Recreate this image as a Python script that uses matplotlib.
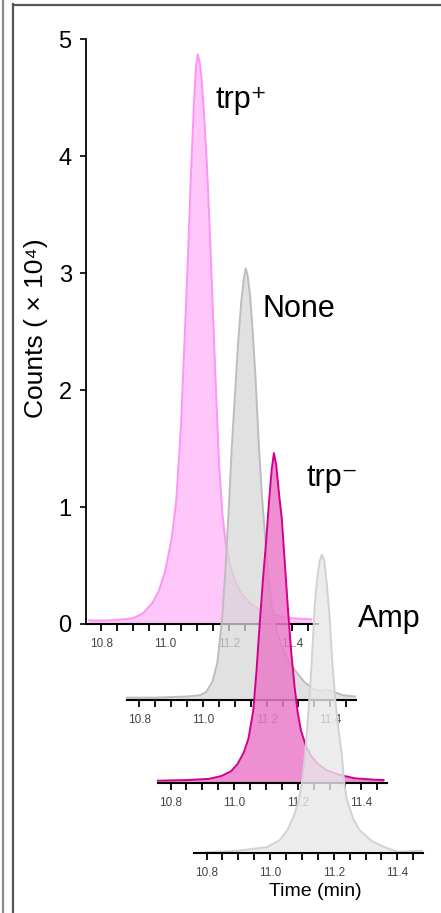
import numpy as np
import matplotlib
matplotlib.use("Agg")
import matplotlib.pyplot as plt
from matplotlib.lines import Line2D
from matplotlib.ticker import FixedLocator, FormatStrFormatter

# retention time (min) / counts (x10^4)
t_trp_plus = [10.76, 10.82, 10.87, 10.90, 10.93, 10.96, 10.98, 11.00, 11.02, 11.035, 11.05, 11.06,
              11.07, 11.08, 11.09, 11.097, 11.103, 11.109, 11.116, 11.124, 11.132, 11.14, 11.15,
              11.16, 11.17, 11.18, 11.19, 11.205, 11.22, 11.24, 11.27, 11.30, 11.34, 11.39, 11.46]
y_trp_plus = [0.03, 0.03, 0.04, 0.05, 0.09, 0.18, 0.28, 0.45, 0.72, 1.05, 1.7, 2.35,
              3.0, 3.75, 4.4, 4.76, 4.87, 4.8, 4.62, 4.3, 3.9, 3.4, 2.7,
              2.0, 1.35, 0.95, 0.7, 0.5, 0.37, 0.26, 0.17, 0.12, 0.08, 0.05, 0.04]

t_none = [10.76, 10.85, 10.95, 10.99, 11.01, 11.03, 11.045, 11.06, 11.07, 11.08, 11.09, 11.10,
          11.11, 11.12, 11.128, 11.134, 11.14, 11.148, 11.156, 11.165, 11.175, 11.185, 11.195,
          11.205, 11.215, 11.23, 11.25, 11.27, 11.29, 11.32, 11.35, 11.37, 11.39, 11.41, 11.44, 11.48]
y_none = [0.02, 0.02, 0.03, 0.04, 0.07, 0.16, 0.32, 0.7, 1.1, 1.6, 2.15, 2.6,
          3.05, 3.4, 3.6, 3.69, 3.63, 3.45, 3.15, 2.75, 2.2, 1.75, 1.4,
          1.05, 0.82, 0.6, 0.44, 0.33, 0.25, 0.15, 0.09, 0.08, 0.09, 0.07, 0.04, 0.03]

t_trp_minus = [10.76, 10.85, 10.92, 10.96, 10.99, 11.01, 11.03, 11.045, 11.06, 11.07, 11.08,
               11.09, 11.10, 11.11, 11.118, 11.125, 11.132, 11.14, 11.15, 11.16, 11.17, 11.18,
               11.19, 11.20, 11.21, 11.225, 11.24, 11.26, 11.29, 11.33, 11.38, 11.43, 11.47]
y_trp_minus = [0.02, 0.025, 0.035, 0.06, 0.1, 0.16, 0.26, 0.38, 0.62, 0.95, 1.35,
               1.72, 2.05, 2.42, 2.68, 2.82, 2.72, 2.5, 2.25, 1.85, 1.45, 1.1,
               0.82, 0.6, 0.45, 0.32, 0.24, 0.17, 0.11, 0.07, 0.04, 0.03, 0.025]

t_amp = [10.76, 10.90, 10.99, 11.03, 11.055, 11.075, 11.09, 11.10, 11.11, 11.12, 11.13, 11.14,
         11.148, 11.156, 11.163, 11.17, 11.178, 11.186, 11.195, 11.205, 11.215, 11.225, 11.232,
         11.24, 11.26, 11.28, 11.32, 11.36, 11.40, 11.44, 11.48]
y_amp = [0.0, 0.02, 0.05, 0.11, 0.2, 0.32, 0.45, 0.6, 0.85, 1.2, 1.6, 2.12,
         2.35, 2.5, 2.55, 2.5, 2.3, 2.05, 1.65, 1.3, 1.05, 0.85, 0.62,
         0.47, 0.3, 0.2, 0.1, 0.05, 0.01, 0.015, 0.02]

labels = ["trp\u207a", "None", "trp\u207b", "Amp"]
label_pos = [(11.16, 4.41), (11.188, 3.27), (11.228, 2.54), (11.276, 1.93)]

major_ticks = [10.8, 11.0, 11.2, 11.4]
minor_ticks = np.arange(10.8, 11.46, 0.05)
y_ticks = [0, 1, 2, 3, 4, 5]

W, H = 441, 913
plt.rcParams["font.family"] = ["Liberation Sans", "DejaVu Sans"]

fig = plt.figure(figsize=(W / 100, H / 100), dpi=100)
fig.patch.set_facecolor("white")

# frame lines of the original panel
fig.add_artist(Line2D([2.5 / W, 2.5 / W], [0, 1], color="#8a8a8a", lw=1.6))
fig.add_artist(Line2D([13 / W, 13 / W], [0, 1 - 4 / H], color="#555555", lw=1.6))
fig.add_artist(Line2D([13 / W, 1], [1 - 5 / H, 1 - 5 / H], color="#555555", lw=1.6))

# left pixel, bottom pixel of each staggered panel
offsets = [(85.6, 624), (123.6, 700), (154.7, 783), (190.7, 853)]
ax_w = 232.1
ax_h = 585

traces = [(t_trp_plus, y_trp_plus), (t_none, y_none), (t_trp_minus, y_trp_minus), (t_amp, y_amp)]
fills = [("#ffc6fa", 1.0), ("#d8d8d8", 0.75), ("#ea7cc8", 0.85), ("#e8e8e8", 0.8)]
lines = ["#ff94f2", "#bdbdbd", "#d4008c", "#d2d2d2"]

axes = []
for i, (left, bottom) in enumerate(offsets):
    ax = fig.add_axes([left / W, (H - bottom) / H, ax_w / W, ax_h / H])
    ax.patch.set_visible(False)
    t, y = traces[i]
    ax.fill_between(t, y, 0, color=fills[i][0], alpha=fills[i][1], lw=0)
    ax.plot(t, y, color=lines[i], lw=1.4, solid_joinstyle="round")
    ax.set_xlim(10.75, 11.48)
    ax.set_ylim(0, 5.0)
    for s in ["top", "right"]:
        ax.spines[s].set_visible(False)
    ax.spines["bottom"].set_linewidth(1.5)
    ax.xaxis.set_major_locator(FixedLocator(major_ticks))
    ax.xaxis.set_minor_locator(FixedLocator(minor_ticks))
    ax.xaxis.set_major_formatter(FormatStrFormatter("%.1f"))
    ax.tick_params(axis="x", which="both", direction="out", length=5, width=1.3,
                   color="black", pad=5, labelsize=8.5, labelcolor="#444444")
    if i == 0:
        ax.spines["left"].set_linewidth(1.3)
        ax.set_yticks(y_ticks)
        ax.tick_params(axis="y", length=4, width=1.2, pad=6, labelsize=17)
        ax.set_ylabel("Counts ( \u00d7 10\u2074)", fontsize=19)
        ax.yaxis.set_label_coords(-0.16, 0.505)
    else:
        ax.spines["left"].set_visible(False)
        ax.spines["bottom"].set_bounds(10.76, 11.48)
        ax.set_yticks([])
    ax.text(label_pos[i][0], label_pos[i][1], labels[i], fontsize=22,
            va="baseline", ha="left")
    axes.append(ax)

axes[-1].set_xlabel("Time (min)", fontsize=14)
axes[-1].xaxis.set_label_coords(0.536, -0.052)

fig.savefig("out.png", dpi=100)
